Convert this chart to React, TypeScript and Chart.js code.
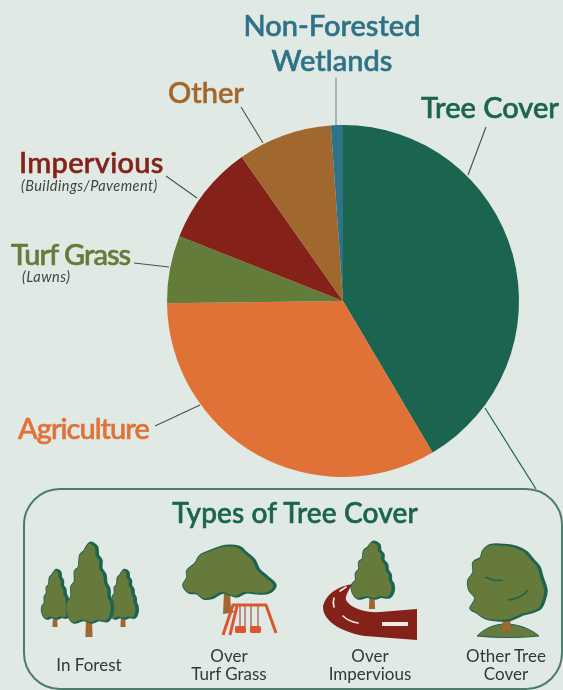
import React, { useEffect, useRef } from "react";
import { Chart, registerables } from "chart.js";

Chart.register(...registerables);

const categories = ["Tree Cover", "Agriculture", "Turf Grass", "Impervious", "Other", "Non-Forested Wetlands"];
const shares = [41.5, 33.3, 6.2, 9.25, 8.65, 1.1];
const sliceColors = ["#1a6450", "#e07238", "#647c3a", "#842219", "#a0682e", "#2e7288"];
const treeTypes = ["In Forest", "Over Turf Grass", "Over Impervious", "Other Tree Cover"];

const BG = "#e0e9e4";
const LEAF = "#667a3c";
const DARK = "#1a6450";
const TRUNK = "#a0682e";
const SWING = "#d9562f";
const ROAD = "#842219";

type Pt = [number, number];

const coniferShape: Pt[] = [
  [0, 0], [0.3, 0.05], [0.34, 0.15], [0.5, 0.22], [0.5, 0.32], [0.68, 0.4], [0.72, 0.5], [0.86, 0.58],
  [0.88, 0.68], [1, 0.76], [1, 0.88], [0.8, 0.98], [0.4, 0.97], [0.1, 1], [-0.3, 0.97], [-0.75, 1],
  [-1, 0.88], [-1, 0.75], [-0.82, 0.68], [-0.82, 0.55], [-0.66, 0.48], [-0.66, 0.35], [-0.48, 0.3],
  [-0.42, 0.15], [-0.24, 0.1],
];
const swingCrown: Pt[] = [
  [183, 585], [187, 577], [187, 570], [195, 563], [200, 555], [212, 550], [224, 546], [238, 547], [245, 553],
  [253, 560], [258, 570], [266, 577], [274, 585], [268, 592], [258, 593], [245, 592], [235, 596], [222, 592],
  [212, 597], [203, 598], [196, 593], [188, 592],
];
const oakCrown: Pt[] = [
  [490, 545], [503, 545], [515, 547], [525, 552], [532, 560], [538, 567], [541, 577], [545, 590], [543, 600],
  [539, 608], [530, 612], [522, 614], [510, 619], [498, 620], [485, 618], [476, 612], [470, 608], [475, 598],
  [469, 590], [468, 580], [473, 572], [473, 562], [480, 558], [483, 550],
];

function smooth(pts: Pt[]): string {
  const n = pts.length;
  let d = `M${pts[0][0]} ${pts[0][1]}`;
  for (let i = 0; i < n; i++) {
    const p0 = pts[(i - 1 + n) % n], p1 = pts[i], p2 = pts[(i + 1) % n], p3 = pts[(i + 2) % n];
    const c1x = p1[0] + (p2[0] - p0[0]) / 6, c1y = p1[1] + (p2[1] - p0[1]) / 6;
    const c2x = p2[0] - (p3[0] - p1[0]) / 6, c2y = p2[1] - (p3[1] - p1[1]) / 6;
    d += ` C${c1x} ${c1y} ${c2x} ${c2y} ${p2[0]} ${p2[1]}`;
  }
  return d + " Z";
}

function Crown({ pts }: { pts: Pt[] }) {
  const d = smooth(pts);
  return (
    <g>
      <path d={d} fill={DARK} stroke={DARK} strokeWidth={3} transform="translate(1.2 0.2)" />
      <path d={d} fill={LEAF} stroke={DARK} strokeWidth={0.8} transform="translate(-0.4 0.3)" />
    </g>
  );
}

function Conifer({ cx, top, bottom, hw, trunkEnd, tw }: { cx: number; top: number; bottom: number; hw: number; trunkEnd: number; tw: number }) {
  const h = bottom - top;
  const pts = coniferShape.map(([x, y]) => [cx + x * hw, top + y * h] as Pt);
  return (
    <g>
      <path d={`M${cx - tw / 2} ${bottom - 3} L${cx + tw / 2} ${bottom - 3} L${cx + tw / 2 + 0.6} ${trunkEnd} L${cx - tw / 2 - 0.6} ${trunkEnd} Z`} fill={TRUNK} />
      <Crown pts={pts} />
    </g>
  );
}

const labelBase: React.CSSProperties = {
  position: "absolute",
  fontFamily: "Lato, sans-serif",
  whiteSpace: "nowrap",
  lineHeight: 1,
};

function Label(props: { x: number; y: number; size: number; color: string; text: string; weight?: number; italic?: boolean; center?: boolean; spacing?: number; heavy?: boolean }) {
  return (
    <div
      style={{
        ...labelBase,
        left: props.x,
        top: props.y,
        fontSize: props.size,
        color: props.color,
        fontWeight: props.weight ?? 500,
        fontStyle: props.italic ? "italic" : "normal",
        letterSpacing: props.spacing ?? 0,
        WebkitTextStroke: props.heavy === false ? undefined : `0.6px ${props.color}`,
        transform: props.center ? "translateX(-50%)" : undefined,
      }}
    >
      {props.text}
    </div>
  );
}

function Overlay() {
  const line = "#46524d";
  return (
    <svg width={563} height={690} style={{ position: "absolute", left: 0, top: 0 }}>
      <g stroke={line} strokeWidth={1.1} fill="none">
        <line x1={336} y1={78} x2={336} y2={125} stroke="#7d8a85" />
        <line x1={241} y1={107} x2={263} y2={143} />
        <line x1={166} y1={176} x2={197} y2={198} />
        <line x1={134} y1={263} x2={169} y2={267} />
        <line x1={486} y1={127} x2={468} y2={175} />
        <line x1={155} y1={426} x2={200} y2={405} />
      </g>
      <line x1={485} y1={408} x2={536} y2={489} stroke={DARK} strokeWidth={1.2} />
      <rect x={24} y={489} width={538} height={200} rx={36} fill="none" stroke="#4d7c6c" strokeWidth={2} />

      {/* In Forest */}
      <Conifer cx={55} top={570} bottom={618} hw={13} trunkEnd={627} tw={4} />
      <Conifer cx={123} top={570} bottom={618} hw={13} trunkEnd={627} tw={4} />
      <Conifer cx={89} top={543} bottom={622} hw={22} trunkEnd={637} tw={6} />

      {/* Over Turf Grass */}
      <path d="M224 592 L230 592 L231 610 L236 612 L223 614 Z" fill={TRUNK} />
      <Crown pts={swingCrown} />
      <g stroke={ROAD} strokeWidth={0.9}>
        <line x1={240} y1={606} x2={240} y2={628} />
        <line x1={245} y1={606} x2={245} y2={628} />
        <line x1={251} y1={606} x2={251} y2={628} />
        <line x1={258} y1={606} x2={258} y2={628} />
      </g>
      <g stroke={SWING} strokeWidth={3} fill="none" strokeLinejoin="round">
        <path d="M223 635 L233 605 L266 605 L276 633" />
        <path d="M230 635 L237 606" />
      </g>
      <rect x={235} y={626} width={11} height={7} rx={1.5} fill={SWING} />
      <rect x={250} y={626} width={11} height={7} rx={1.5} fill={SWING} />

      {/* Over Impervious */}
      <path d="M353 584 C338 586 326 594 323 606 C322 620 340 632 365 636 L417 640 L417 609 L380 612 C365 613 350 608 346 600 C345 596 349 589 353 584 Z" fill={ROAD} />
      <g stroke="#f1ede4" fill="none" strokeLinecap="round" strokeWidth={1.6}>
        <path d="M340 591 L346 587" />
        <path d="M334 598 C333 601 333 604 334 607" />
        <path d="M343 616 C347 620 352 622 358 623" />
      </g>
      <rect x={382} y={622} width={26} height={4} fill="#f1ede4" />
      <Conifer cx={372} top={542} bottom={598} hw={20} trunkEnd={609} tw={5} />

      {/* Other Tree Cover */}
      <path d="M477 636 C485 628 495 624 505 624 C520 624 532 630 539 636 C520 638 495 638 477 636 Z" fill={LEAF} stroke={DARK} strokeWidth={1} />
      <path d="M503 612 L510 612 L511 631 L502 631 Z" fill={TRUNK} />
      <Crown pts={oakCrown} />
      <path d="M485 577 C491 580 498 581 503 580 M508 600 C516 599 524 596 528 590" stroke={DARK} strokeWidth={1.6} fill="none" />
    </svg>
  );
}

export default function App() {
  const ref = useRef<HTMLCanvasElement>(null);
  useEffect(() => {
    document.body.style.margin = "0";
    document.body.style.background = BG;
    const chart = new Chart(ref.current!, {
      type: "pie",
      data: {
        labels: categories,
        datasets: [{ data: shares, backgroundColor: sliceColors, borderWidth: 0 }],
      },
      options: {
        responsive: false,
        animation: false,
        layout: { padding: { left: 167, right: 44, top: 125, bottom: 213 } },
        plugins: { legend: { display: false }, tooltip: { enabled: false } },
      },
    });
    return () => chart.destroy();
  }, []);

  const note = "#3c4642";
  const small = "#2f3a36";
  return (
    <div style={{ position: "relative", width: 563, height: 690, background: BG, overflow: "hidden", filter: "blur(0.4px)" }}>
      <canvas ref={ref} width={563} height={690} style={{ position: "absolute", left: 0, top: 0, width: 563, height: 690 }} />
      <Overlay />
      <Label x={332} y={10} size={29} color={sliceColors[5]} text="Non-Forested" center />
      <Label x={332} y={45} size={29} color={sliceColors[5]} text="Wetlands" center />
      <Label x={168} y={77} size={29} color={sliceColors[4]} text={categories[4]} />
      <Label x={421} y={92} size={29} color={sliceColors[0]} text={categories[0]} />
      <Label x={19} y={147} size={29} color={sliceColors[3]} text={categories[3]} spacing={0.3} />
      <Label x={21} y={179} size={14.5} color={note} weight={400} italic text="(Buildings/Pavement)" spacing={0.45} heavy={false} />
      <Label x={11} y={239} size={29} color={sliceColors[2]} text={categories[2]} spacing={-1} />
      <Label x={22} y={270} size={14.5} color={note} weight={400} italic text="(Lawns)" spacing={0.45} heavy={false} />
      <Label x={18} y={413} size={29} color={sliceColors[1]} text={categories[1]} spacing={-1} />
      <Label x={295} y={498} size={28} color={DARK} text="Types of Tree Cover" center spacing={0.15} />
      <Label x={89} y={656} size={17} color={small} weight={400} text={treeTypes[0]} center heavy={false} />
      <Label x={229} y={647} size={17} color={small} weight={400} text="Over" center heavy={false} />
      <Label x={229} y={665} size={17} color={small} weight={400} text="Turf Grass" center heavy={false} />
      <Label x={370} y={647} size={17} color={small} weight={400} text="Over" center heavy={false} />
      <Label x={370} y={665} size={17} color={small} weight={400} text="Impervious" center heavy={false} />
      <Label x={506} y={647} size={17} color={small} weight={400} text="Other Tree" center heavy={false} />
      <Label x={506} y={665} size={17} color={small} weight={400} text="Cover" center heavy={false} />
    </div>
  );
}
